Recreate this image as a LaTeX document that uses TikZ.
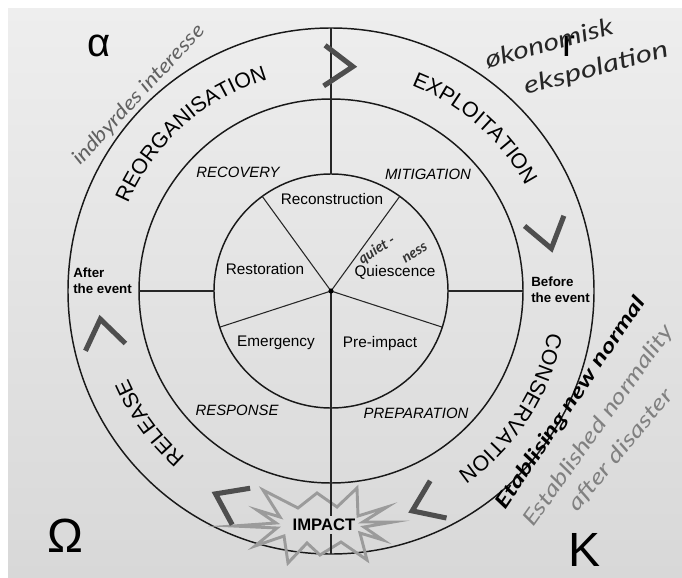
\documentclass[tikz,border=0pt]{standalone}
\usepackage{fontspec}
\setmainfont{Liberation Sans}
\newfontfamily\hand{Lato}
\usetikzlibrary{decorations.text,calc}
\definecolor{bgtop}{RGB}{238,238,238}
\definecolor{bgbot}{RGB}{216,216,216}
\definecolor{chevgray}{RGB}{78,78,78}
\definecolor{stargray}{RGB}{155,155,155}
\begin{document}
\begin{tikzpicture}[x=0.75pt,y=0.75pt,
  ring/.style={line width=1.1pt, draw=black!90},
  spoke/.style={line width=0.8pt, draw=black!85},
  chev/.style={line width=3.8pt, draw=chevgray, miter limit=10},
  inlabel/.style={font=\fontsize{11.5}{13}\selectfont, inner sep=1pt},
  phase/.style={font=\fontsize{11.2}{13}\selectfont\itshape, inner sep=1pt},
  eventlbl/.style={font=\fontsize{10}{12}\selectfont\bfseries, align=left, anchor=west, inner sep=0pt},
  bigsym/.style={font=\fontsize{#1}{#1}\selectfont, inner sep=0pt},
  hw/.style={font=\hand\itshape\fontsize{#1}{#1}\selectfont, inner sep=0pt},
  hwb/.style={font=\hand\bfseries\itshape\fontsize{#1}{#1}\selectfont, inner sep=0pt},
  arctext/.style={decorate, decoration={text along path, text align=center,
     text={|\fontsize{16}{18}\selectfont|#1}}}
]
\useasboundingbox (0,0) rectangle (682,-578);
\fill[white] (0,0) rectangle (682,-578);
\shade[top color=bgtop, bottom color=bgbot] (8,-8) rectangle (682,-578);

\coordinate (C) at (331,-291);

% circles
\draw[ring] (C) circle[radius=117];
\draw[ring] (C) circle[radius=192];
\draw[ring] (C) circle[radius=263];

% spoke end points
\path (C) ++(270:117) coordinate (p1);
\path (C) ++(342:117) coordinate (p2);
\path (C) ++(54:117) coordinate (p3);
\path (C) ++(126:117) coordinate (p4);
\path (C) ++(198:117) coordinate (p5);
\foreach \p in {p1,p2,p3,p4,p5} \draw[spoke] (C) -- (\p);
\fill (C) circle[radius=2.6];

% dividers
\path (C) ++(90:263) coordinate (top263);
\path (C) ++(90:117) coordinate (top117);
\path (C) ++(180:192) coordinate (left192);
\path (C) ++(180:117) coordinate (left117);
\path (C) ++(0:192) coordinate (right192);
\path (C) ++(0:117) coordinate (right117);
\path (C) ++(270:263) coordinate (bot263);
\draw[spoke] (top263) -- (top117);
\draw[spoke] (left192) -- (left117);
\draw[spoke] (right192) -- (right117);

% impact star
\draw[line width=2.2pt, draw=stargray, line join=miter, miter limit=20]
 (233,-526) -- (276,-523) -- (257,-510) -- (280,-517) -- (263,-490) -- (298,-508)
 -- (317,-493) -- (337,-507) -- (357,-488) -- (358,-516) -- (387,-507) -- (363,-522)
 -- (393,-522) -- (364,-527) -- (383,-540) -- (360,-533) -- (367,-560) -- (341,-542)
 -- (320,-555) -- (307,-543) -- (288,-563) -- (284,-536) -- (255,-546) -- (277,-528) -- cycle;
\node[font=\fontsize{12.5}{14}\selectfont\bfseries, inner sep=2pt] (impact) at (324,-525) {IMPACT};
\draw[spoke] (p1) -- (impact.north -| p1);
\draw[spoke] (impact.south -| p1) -- (bot263);

% inner labels
\node[inlabel] (recon) at (332,-199) {Reconstruction};
\node[inlabel] (resto) at (265,-269) {Restoration};
\node[inlabel] (quies) at (395,-272) {Quiescence};
\node[inlabel] (emerg) at (276,-343) {Emergency};
\node[inlabel] (preim) at (380,-344) {Pre-impact};

% ring phases
\node[phase] (recov) at (238,-172) {RECOVERY};
\node[phase] (mitig) at (428,-174) {MITIGATION};
\node[phase] (respo) at (237,-410) {RESPONSE};
\node[phase] (prepa) at (416,-413) {PREPARATION};

% event labels
\node[eventlbl] (after) at (73,-281) {After\\the event};
\node[eventlbl] (before) at (531,-290) {Before\\the event};

% outer ring curved texts
\path[arctext=REORGANISATION] (C) ++(191.7:221) arc[start angle=191.7, end angle=71.7, radius=221];
\path[arctext=EXPLOITATION] (C) ++(108.5:221) arc[start angle=108.5, end angle=-11.5, radius=221];
\path[arctext=CONSERVATION] (C) ++(27:221) arc[start angle=27, end angle=-93, radius=221];
\path[arctext=RELEASE] (C) ++(276:221) arc[start angle=276, end angle=156, radius=221];

% chevrons (pointing clockwise)
\foreach \a/\r in {88/225, 14.5/224, -66.3/234, 243.8/233, 190.4/232}{
  \begin{scope}[shift={($(C)+(\a:\r)$)}, rotate=\a-90]
    \draw[chev] (-14.5,20.3) -- (14,0) -- (-14.5,-20.3);
  \end{scope}
}

% corner symbols
\node[bigsym=30] (alpha) at (99,-46) {α};
\node[bigsym=29] (rsym) at (569,-46) {r};
\node[bigsym=36] (omega) at (65,-536) {Ω};
\node[bigsym=36] (kappa) at (585,-550) {K};

% handwriting
\node[hw=15, text=black!62, rotate=47, xscale=1.16] (h1) at (139,-95) {indbyrdes interesse};
\node[hw=18, text=black!85, rotate=15, xscale=1.24] (h2) at (549,-43) {økonomisk};
\node[hw=18, text=black!85, rotate=15, xscale=1.3] (h3) at (596,-69) {ekspolation};
\node[hwb=11, text=black!80, rotate=32] (h4) at (377,-250) {quiet -};
\node[hwb=11, text=black!80, rotate=32] (h5) at (415,-253) {ness};
\node[hwb=15, text=black, rotate=56, xscale=1.35] (h6) at (571,-403) {Etablising new normal};
\node[hw=16, text=black!50, rotate=54.4, xscale=1.27] (h7) at (599,-426) {Established normality};
\node[hw=16, text=black!50, rotate=50.4, xscale=1.3] (h8) at (621,-450) {after disaster};
\end{tikzpicture}
\end{document}
